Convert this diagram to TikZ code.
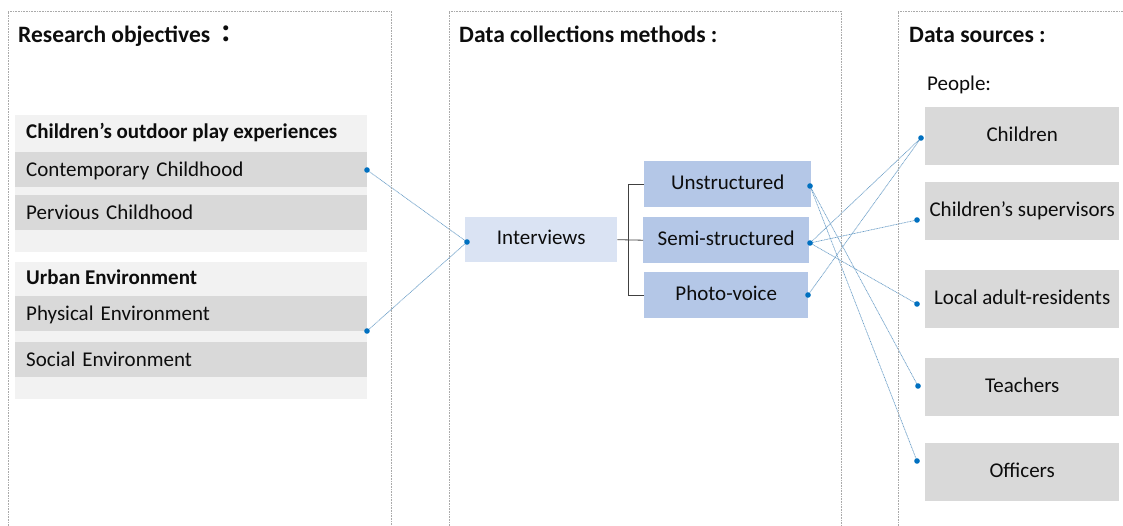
\documentclass[tikz,border=0pt]{standalone}
\usepackage{fontspec}
\setmainfont{Carlito}
\newfontfamily\cjk{Noto Sans CJK JP}
\usetikzlibrary{positioning,backgrounds}
\definecolor{rsInk}{RGB}{13,13,13}
\definecolor{rsFrame}{RGB}{170,170,170}
\definecolor{rsPale}{RGB}{242,242,242}
\definecolor{rsGray}{RGB}{217,217,217}
\definecolor{rsIce}{RGB}{218,227,243}
\definecolor{rsBlue}{RGB}{180,199,231}
\definecolor{rsDot}{RGB}{0,112,192}
\definecolor{rsLink}{RGB}{110,160,200}
\definecolor{rsDark}{RGB}{64,64,64}
\tikzset{
    base/.style={font=\fontsize{21}{24}\selectfont, text=rsInk, inner sep=0pt},
    title/.style={base, font=\fontsize{23.5}{27}\selectfont\bfseries, anchor=base west},
    heading/.style={base, font=\fontsize{21}{24}\selectfont\bfseries, anchor=base west},
    panel/.style={draw=rsFrame, line width=0.6pt, dash pattern=on 0.8pt off 0.8pt},
    grpbox/.style={rectangle, fill=rsPale, anchor=north west, inner sep=0pt,
                   minimum width=352pt, minimum height=137pt},
    rowbox/.style={base, rectangle, fill=rsGray, anchor=north west, inner xsep=11pt,
                   text width=330pt, align=left, minimum height=35pt,
                   text height=15pt, text depth=2pt},
    methbox/.style={base, rectangle, fill=rsBlue, anchor=north west, align=center,
                    minimum width=167pt, minimum height=46pt,
                    text height=14pt, text depth=4pt},
    srcbox/.style={base, rectangle, fill=rsGray, anchor=north west, align=center,
                   minimum width=194pt, minimum height=58pt,
                   text height=14pt, text depth=4pt},
    joint/.style={circle, fill=rsDot, inner sep=0pt, minimum size=5.6pt},
    link/.style={draw=rsLink, line width=0.7pt, dash pattern=on 1pt off 0.6pt},
    bracket/.style={draw=rsDark, line width=0.8pt}
}
\begin{document}
\begin{tikzpicture}[x=1pt, y=-1pt]
  \useasboundingbox (0,0) rectangle (1123,526);

  % Panels
  \draw[panel] (8,526) |- (391,11) -- (391,526);
  \draw[panel] (449,526) |- (841,11) -- (841,526);
  \draw[panel] (898,526) |- (1123,11);

  % Titles
  \node[title] (tObj) at (18,43) {Research objectives\,{\cjk ：}};
  \node[title] (tMeth) at (459,43) {Data collections methods :};
  \node[title] (tSrc) at (909,43) {Data sources :};
  \node[base, anchor=base west] (people) at (927,91) {People:};

  % Research objectives
  \node[grpbox] (grpA) at (15,115) {};
  \node[grpbox] (grpB) at (15,262) {};
  \node[heading] (hA) at (26,139) {Children’s outdoor play experiences};
  \node[rowbox] (cc) at (15,152) {Contemporary Childhood};
  \node[rowbox] (pc) at (15,195) {Pervious Childhood};
  \node[heading] (hB) at (26,285) {Urban Environment};
  \node[rowbox] (pe) at (15,296) {Physical Environment};
  \node[rowbox] (se) at (15,342) {Social Environment};

  % Methods
  \node[methbox, fill=rsIce, minimum width=152pt, minimum height=45pt] (iv) at (465,217) {Interviews};
  \node[methbox] (un) at (644,161) {Unstructured};
  \node[methbox, minimum width=166pt] (ss) at (643,217) {Semi-structured};
  \node[methbox, minimum width=164pt] (pv) at (644,272) {Photo-voice};
  \coordinate (fork) at (628,239);
  \draw[bracket] (iv.east) -- (ss.west);
  \draw[bracket] (un.west) -| (fork) |- (pv.west);

  % Sources
  \node[srcbox] (ch) at (925,107) {Children};
  \node[srcbox] (cs) at (925,182) {Children’s supervisors};
  \node[srcbox] (lr) at (925,270) {Local adult-residents};
  \node[srcbox] (te) at (925,358) {Teachers};
  \node[srcbox] (of) at (925,443) {Officers};

  % Connection points
  \node[joint] (jcc) at (367,170) {};
  \node[joint] (jpe) at (367,331) {};
  \node[joint] (jiv) at (467,242) {};
  \node[joint] (jun) at (810,186) {};
  \node[joint] (jss) at (810,243) {};
  \node[joint] (jpv) at (808,295) {};
  \node[joint] (jch) at (921,138) {};
  \node[joint] (jcs) at (917,220) {};
  \node[joint] (jlr) at (917,304) {};
  \node[joint] (jte) at (918,386) {};
  \node[joint] (jof) at (917,461) {};

  % Links
  \begin{scope}[on background layer]
    \draw[link] (jcc.center) -- (jiv.center);
    \draw[link] (jpe.center) -- (jiv.center);
    \draw[link] (jun.center) -- (jte.center);
    \draw[link] (jun.center) -- (jof.center);
    \draw[link] (jss.center) -- (jch.center);
    \draw[link] (jss.center) -- (jcs.center);
    \draw[link] (jss.center) -- (jlr.center);
    \draw[link] (jpv.center) -- (jch.center);
  \end{scope}
\end{tikzpicture}
\end{document}
